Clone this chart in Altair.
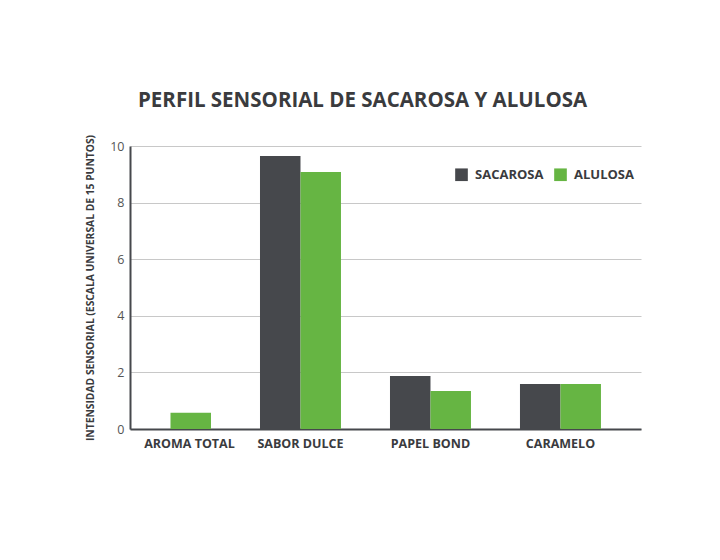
import altair as alt
import pandas as pd

categories = ["AROMA TOTAL", "SABOR DULCE", "PAPEL BOND", "CARAMELO"]
series = ["SACAROSA", "ALULOSA"]
sacarosa = [0.0, 9.65, 1.87, 1.59]
alulosa = [0.57, 9.08, 1.34, 1.59]

rows = []
for i, c in enumerate(categories):
    rows.append({"cat": c, "serie": "SACAROSA", "val": sacarosa[i]})
    rows.append({"cat": c, "serie": "ALULOSA", "val": alulosa[i]})
df = pd.DataFrame(rows)

FONT = "Open Sans"

chart = alt.Chart(df).mark_bar().encode(
    x=alt.X("cat:N", sort=categories, title=None,
            scale=alt.Scale(paddingInner=0.377, paddingOuter=0.154, align=0),
            axis=alt.Axis(labelAngle=0, labelFont=FONT, labelFontSize=12.5,
                          labelFontWeight="bold", labelColor="#3a3b3e",
                          labelOffset={"condition": {"test": "datum.value === 'AROMA TOTAL'", "value": 19}, "value": 0},
                          ticks=False, domainColor="#46484c", domainWidth=2,
                          labelPadding=8)),
    xOffset=alt.XOffset("serie:N", sort=series),
    y=alt.Y("val:Q", title="INTENSIDAD SENSORIAL (ESCALA UNIVERSAL DE 15 PUNTOS)",
            scale=alt.Scale(domain=[0, 10]),
            axis=alt.Axis(values=[0, 2, 4, 6, 8, 10], ticks=False,
                          labelFont=FONT, labelFontSize=12.5, labelColor="#555555",
                          labelPadding=6, domainColor="#46484c", domainWidth=2,
                          gridColor="#c8c8c8", gridWidth=1,
                          titleFont=FONT, titleFontSize=10.3, titleFontWeight="bold",
                          titleColor="#3a3b3e", titlePadding=14)),
    color=alt.Color("serie:N", sort=series,
                    scale=alt.Scale(domain=series, range=["#46484c", "#66b543"]),
                    legend=alt.Legend(title=None, orient="none", direction="horizontal",
                                      legendX=325, legendY=22, symbolType="square",
                                      symbolSize=160, symbolStrokeWidth=0,
                                      labelFont=FONT, labelFontSize=13,
                                      labelFontWeight="bold", labelColor="#3a3b3e",
                                      columnPadding=10, labelOffset=7)),
).properties(
    width=511, height=283,
    title=alt.TitleParams("PERFIL SENSORIAL DE SACAROSA Y ALULOSA", font=FONT,
                          fontSize=20.5, fontWeight="bold", color="#3a3b3e",
                          anchor="start", frame="group", dx=8, offset=23),
    autosize=alt.AutoSizeParams(type="none"),
    padding={"left": 122, "top": 138, "right": 40, "bottom": 60},
).configure_view(stroke=None).configure_axis(gridOpacity=1)

chart.save("out.html", embed_options={"renderer": "svg", "actions": False})
